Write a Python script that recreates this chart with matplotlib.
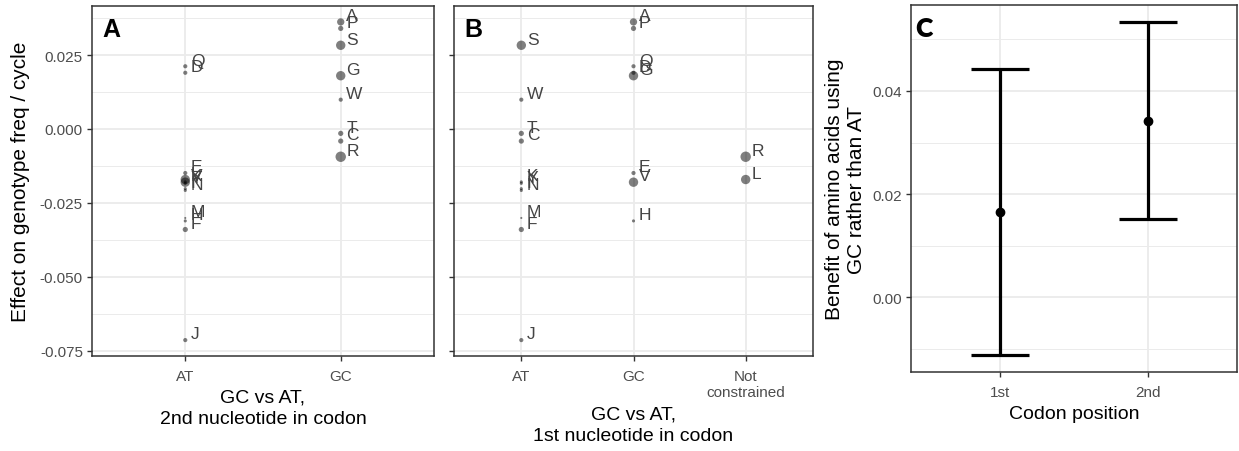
import matplotlib
matplotlib.use("Agg")
import matplotlib.pyplot as plt
import numpy as np
from matplotlib.ticker import MultipleLocator

plt.rcParams['font.family'] = ['Liberation Sans', 'DejaVu Sans']

# ---------------- data ----------------
letters = ['A', 'P', 'S', 'G', 'W', 'T', 'C', 'R', 'Q', 'D', 'E',
           'K', 'Y', 'I', 'N', 'V', 'L', 'H', 'M', 'F', 'J']
effect = [0.0362, 0.0340, 0.0283, 0.0180, 0.0099, -0.0015, -0.0041, -0.0094,
          0.0212, 0.0190, -0.0149, -0.0179, -0.0184, -0.0202, -0.0208,
          -0.0180, -0.0171, -0.0311, -0.0301, -0.0340, -0.0714]
weight = [7, 5, 9, 9, 4, 5, 5, 10, 4, 4, 4, 3, 3, 3, 3, 9, 9, 3, 2, 5, 4]
second_nt = ['GC', 'GC', 'GC', 'GC', 'GC', 'GC', 'GC', 'GC', 'AT', 'AT', 'AT',
             'AT', 'AT', 'AT', 'AT', 'AT', 'AT', 'AT', 'AT', 'AT', 'AT']
first_nt = ['GC', 'GC', 'AT', 'GC', 'AT', 'AT', 'AT', 'NC', 'GC', 'GC', 'GC',
            'AT', 'AT', 'AT', 'AT', 'GC', 'NC', 'GC', 'AT', 'AT', 'AT']

cats_A = ['AT', 'GC']
cats_B = ['AT', 'GC', 'NC']
ticklabels_B = ['AT', 'GC', 'Not\nconstrained']
yticks_AB = [-0.075, -0.050, -0.025, 0.000, 0.025]

codon_pos = ['1st', '2nd']
benefit = [0.0165, 0.0342]
benefit_lo = [-0.0112, 0.0152]
benefit_hi = [0.0442, 0.0534]
yticks_C = [0.00, 0.02, 0.04]

# ---------------- figure ----------------
W, H = 1239, 452
fig = plt.figure(figsize=(W / 100, H / 100), dpi=100)

def frac_axes(l, r, t, b):
    return fig.add_axes([l / W, 1 - b / H, (r - l) / W, (b - t) / H])

axA = frac_axes(92, 434, 7, 357)
axB = frac_axes(454, 813, 7, 357)
axC = frac_axes(911, 1237, 6, 373)

grid_col = '#EBEBEB'
spine_col = '#333333'
tick_col = '#4D4D4D'
TICK_FS = 11
TITLE_FS = 14
YTITLE_FS = 15


def style(ax):
    ax.set_facecolor('white')
    for s in ax.spines.values():
        s.set_color(spine_col)
        s.set_linewidth(1.1)
    ax.grid(True, which='major', color=grid_col, linewidth=1.3)
    ax.grid(True, which='minor', axis='y', color=grid_col, linewidth=0.7)
    ax.set_axisbelow(True)
    ax.tick_params(axis='both', which='major', length=3.5, width=1.0,
                   color=spine_col, labelcolor=tick_col, labelsize=TICK_FS,
                   pad=3)
    ax.tick_params(axis='x', which='major', pad=6)
    ax.tick_params(axis='both', which='minor', length=0)


ymin, ymax = min(effect), max(effect)
pad = 0.05 * (ymax - ymin)
ylimAB = (ymin - pad, ymax + pad)


def dot_panel(ax, classes, cats, ticklabels):
    xs = [cats.index(c) + 1 for c in classes]
    sizes = [(w * 0.75) ** 2 for w in weight]
    ax.scatter(xs, effect, s=sizes, color='black', alpha=0.5,
               edgecolors='none', zorder=3)
    for x, y, lab in zip(xs, effect, letters):
        ax.annotate(lab, (x, y), xytext=(4, 4.5), textcoords='offset points',
                    ha='left', va='center', fontsize=12.5, color='#444444',
                    zorder=4)
    ax.set_xlim(0.4, len(cats) + 0.6)
    ax.set_ylim(*ylimAB)
    ax.set_xticks(range(1, len(cats) + 1))
    ax.set_xticklabels(ticklabels)
    ax.set_yticks(yticks_AB)
    ax.yaxis.set_minor_locator(MultipleLocator(0.0125))
    style(ax)


dot_panel(axA, second_nt, cats_A, cats_A)
axA.set_yticklabels([f'{v:.3f}' for v in yticks_AB])
axA.set_ylabel('Effect on genotype freq / cycle', fontsize=YTITLE_FS)
axA.yaxis.set_label_coords(-0.21, 0.5)
axA.yaxis.label.set_va('center')
axA.set_xlabel('GC vs AT,\n2nd nucleotide in codon', fontsize=TITLE_FS,
               linespacing=1.35)
axA.xaxis.set_label_coords(0.5, -0.149)
axA.xaxis.label.set_va('center')

dot_panel(axB, first_nt, cats_B, ticklabels_B)
axB.set_yticklabels([])
for t in axB.get_xticklabels():
    t.set_va('top')
    t.set_linespacing(1.15)
axB.set_xlabel('GC vs AT,\n1st nucleotide in codon', fontsize=TITLE_FS,
               linespacing=1.35)
axB.xaxis.set_label_coords(0.5, -0.196)
axB.xaxis.label.set_va('center')

# Panel C
xc = np.arange(1, len(codon_pos) + 1)
lo_err = np.array(benefit) - np.array(benefit_lo)
hi_err = np.array(benefit_hi) - np.array(benefit)
axC.errorbar(xc, benefit, yerr=[lo_err, hi_err], fmt='o', color='black',
             markersize=6, elinewidth=2.3, capsize=21, capthick=2.3, zorder=3)
cmin, cmax = min(benefit_lo), max(benefit_hi)
cpad = 0.05 * (cmax - cmin)
axC.set_ylim(cmin - cpad, cmax + cpad)
axC.set_xlim(0.4, len(codon_pos) + 0.6)
axC.set_xticks(xc)
axC.set_xticklabels(codon_pos)
axC.set_yticks(yticks_C)
axC.set_yticklabels([f'{v:.2f}' for v in yticks_C])
axC.yaxis.set_minor_locator(MultipleLocator(0.01))
style(axC)
axC.set_ylabel('Benefit of amino acids using\nGC rather than AT',
               fontsize=YTITLE_FS)
axC.yaxis.set_label_coords(-0.20, 0.5)
axC.yaxis.label.set_va('center')
axC.set_xlabel('Codon position', fontsize=TITLE_FS)
axC.xaxis.set_label_coords(0.5, -0.112)
axC.xaxis.label.set_va('center')

# Panel tags
axA.text(10 / 342, 1 - 11 / 350, 'A', transform=axA.transAxes, ha='left',
         va='top', fontsize=18, fontweight='bold', color='black')
axB.text(10 / 359, 1 - 11 / 350, 'B', transform=axB.transAxes, ha='left',
         va='top', fontsize=18, fontweight='bold', color='black')
axC.text(4 / 326, 1 - 11 / 367, 'C', transform=axC.transAxes, ha='left',
         va='top', fontsize=19, fontweight='heavy', color='black',
         family=['Lato', 'DejaVu Sans'])

fig.savefig('out.png', dpi=100, facecolor='white')
